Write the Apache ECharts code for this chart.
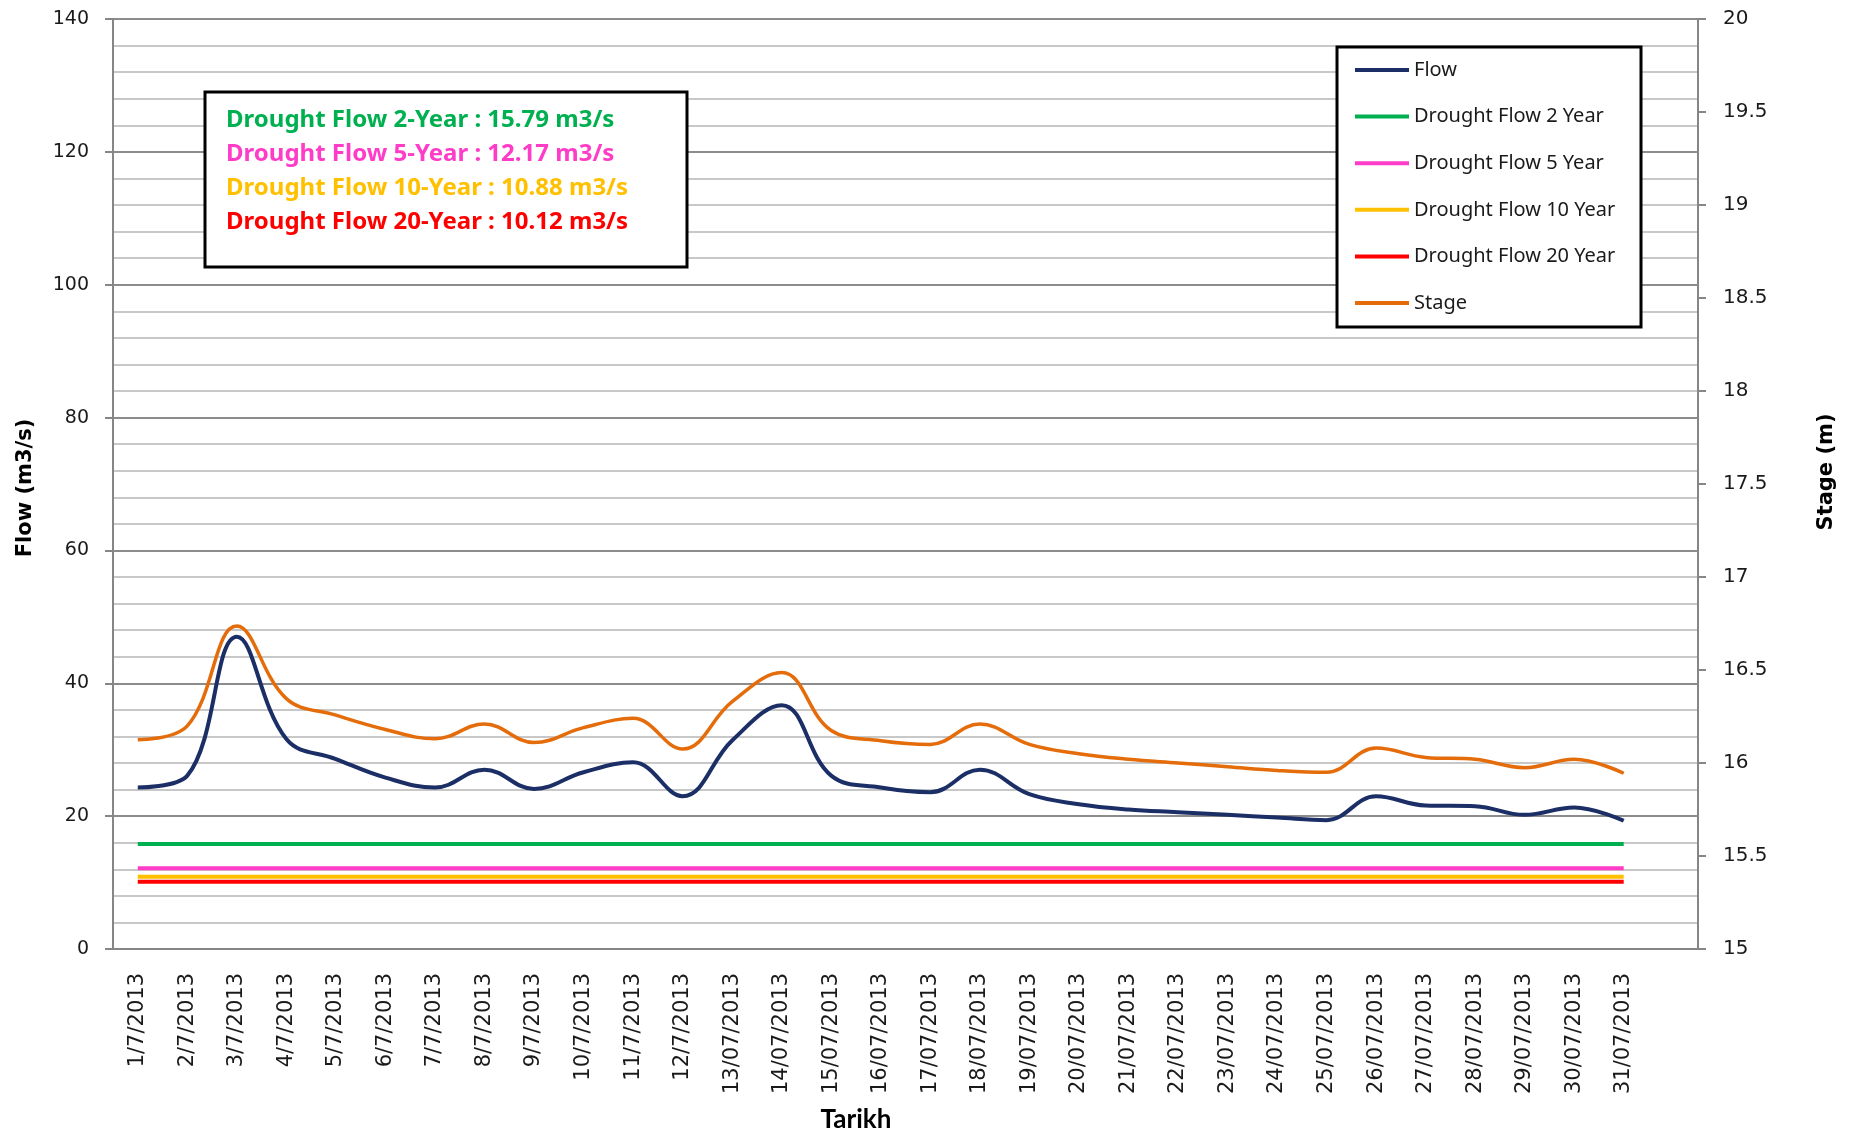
<!DOCTYPE html>
<html><head><meta charset="utf-8">
<script src="https://cdn.jsdelivr.net/npm/echarts@6/dist/echarts.min.js"></script>
<style>html,body{margin:0;padding:0;background:#fff}#c{width:1853px;height:1135px}</style>
</head><body><div id="c"></div>
<script>
// ---- data ----
const dates = ['1/7/2013','2/7/2013','3/7/2013','4/7/2013','5/7/2013','6/7/2013','7/7/2013','8/7/2013','9/7/2013','10/7/2013','11/7/2013','12/7/2013',
  '13/07/2013','14/07/2013','15/07/2013','16/07/2013','17/07/2013','18/07/2013','19/07/2013','20/07/2013','21/07/2013','22/07/2013',
  '23/07/2013','24/07/2013','25/07/2013','26/07/2013','27/07/2013','28/07/2013','29/07/2013','30/07/2013','31/07/2013',''];
const flow = [24.3,26.1,47.0,31.6,28.6,25.8,24.3,27.0,24.1,26.6,28.1,23.0,31.4,36.7,26.1,24.3,23.6,27.0,23.3,21.8,21.0,20.6,20.2,19.8,19.4,23.0,21.6,21.5,20.2,21.3,19.3];
const stage = [16.125,16.20,16.736,16.346,16.257,16.18,16.13,16.21,16.11,16.19,16.24,16.075,16.33,16.486,16.175,16.12,16.10,16.21,16.10,16.05,16.02,16.00,15.98,15.96,15.95,16.08,16.03,16.02,15.975,16.02,15.945];
const droughtNames = ['Drought Flow 2 Year','Drought Flow 5 Year','Drought Flow 10 Year','Drought Flow 20 Year'];
const droughtLabels = ['2-Year','5-Year','10-Year','20-Year'];
const droughtValues = [15.79, 12.17, 10.88, 10.12];
const droughtColors = ['#00B050','#FF3CC8','#FFC000','#FF0000'];
const flowTicks = {min:0, max:140, interval:20};
const stageTicks = {min:15, max:20, interval:0.5};

const chart = echarts.init(document.getElementById('c'), null, {renderer:'canvas'});
const labelFont = 'DejaVu Sans';
const series = [
  {name:'Flow', type:'line', yAxisIndex:0, data:flow, smooth:0.4, showSymbol:false, symbol:'none',
   lineStyle:{color:'#1B2F66', width:4}, itemStyle:{color:'#1B2F66'}, z:3}
];
droughtNames.forEach((n,i)=>{
  series.push({name:n, type:'line', yAxisIndex:0, data:flow.map(()=>droughtValues[i]), showSymbol:false, symbol:'none',
    lineStyle:{color:droughtColors[i], width:4}, itemStyle:{color:droughtColors[i]}, z:2});
});
series.push({name:'Stage', type:'line', yAxisIndex:1, data:stage, smooth:0.4, showSymbol:false, symbol:'none',
  lineStyle:{color:'#E46C0A', width:3.5}, itemStyle:{color:'#E46C0A'}, z:3});

const annoTexts = droughtValues.map((v,i)=>({
  type:'text', x:226, y:120 + i*34, z:7,
  style:{text:'Drought Flow ' + droughtLabels[i] + ' : ' + v.toFixed(2) + ' m3/s', fill:droughtColors[i],
    font:'bold 24px "Noto Sans"', textAlign:'left', textVerticalAlign:'middle'}
}));

chart.setOption({
  animation:false,
  backgroundColor:'#fff',
  grid:{left:113, right:155, top:19, bottom:186, containLabel:false},
  xAxis:{type:'category', data:dates, boundaryGap:true,
    axisLine:{show:true, lineStyle:{color:'#868686', width:2}},
    axisTick:{show:false},
    axisLabel:{interval:0, rotate:90, margin:24, fontFamily:labelFont, fontSize:21, color:'#1a1a1a'},
    splitLine:{show:false}},
  yAxis:[
    {type:'value', min:flowTicks.min, max:flowTicks.max, interval:flowTicks.interval, position:'left',
     axisLine:{show:true, lineStyle:{color:'#868686', width:2}},
     axisTick:{show:true, length:8, lineStyle:{color:'#868686', width:2}},
     axisLabel:{margin:24, fontFamily:labelFont, fontSize:19, color:'#1a1a1a'},
     splitLine:{show:true, lineStyle:{color:'#8c8c8c', width:2}},
     minorTick:{show:false, splitNumber:5},
     minorSplitLine:{show:true, lineStyle:{color:'#c8c8c8', width:2}}},
    {type:'value', min:stageTicks.min, max:stageTicks.max, interval:stageTicks.interval, position:'right',
     axisLine:{show:true, lineStyle:{color:'#868686', width:2}},
     axisTick:{show:true, length:8, lineStyle:{color:'#868686', width:2}},
     axisLabel:{margin:25, fontFamily:labelFont, fontSize:20, color:'#1a1a1a'},
     splitLine:{show:false}}
  ],
  legend:{orient:'vertical', left:1355, top:60, padding:0, itemGap:26.6, itemWidth:54, itemHeight:4,
    icon:'rect', z:10,
    data:['Flow'].concat(droughtNames, ['Stage']),
    textStyle:{fontFamily:'Noto Sans', fontSize:20, color:'#1a1a1a'}},
  graphic:[
    {type:'rect', shape:{x:1337, y:47, width:304, height:280}, style:{fill:'#fff', stroke:'#000', lineWidth:3}, z:5},
    {type:'rect', shape:{x:205, y:92, width:482, height:175}, style:{fill:'#fff', stroke:'#000', lineWidth:3}, z:5},
    ...annoTexts,
    {type:'text', x:26, y:488, rotation:Math.PI/2, z:7,
     style:{text:'Flow (m3/s)', font:'bold 21px "DejaVu Sans"', fill:'#000', textAlign:'center', textVerticalAlign:'middle'}},
    {type:'text', x:1827, y:472, rotation:Math.PI/2, z:7,
     style:{text:'Stage (m)', font:'bold 21px "DejaVu Sans"', fill:'#000', textAlign:'center', textVerticalAlign:'middle'}},
    {type:'text', x:856, y:1120, z:7,
     style:{text:'Tarikh', font:'bold 26px Lato', fill:'#000', textAlign:'center', textVerticalAlign:'middle'}}
  ],
  series:series
});
</script></body></html>
